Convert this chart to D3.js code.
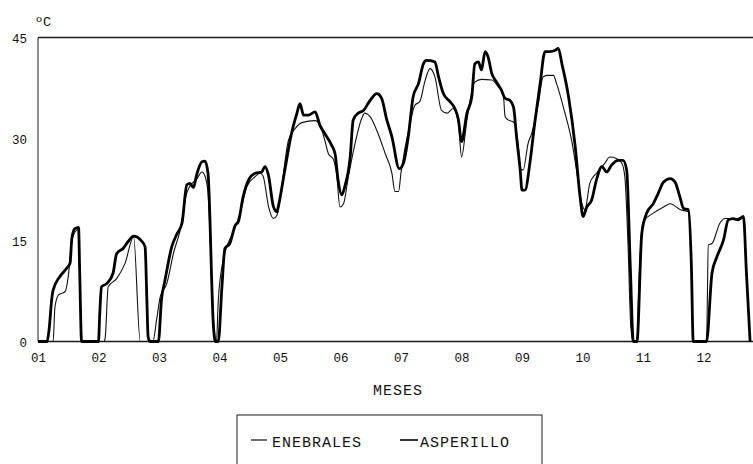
<!DOCTYPE html>
<html lang="es">
<head>
<meta charset="UTF-8">
<title>Temperatura mensual</title>
<script src="https://d3js.org/d3.v7.min.js"></script>
<style>
  body { margin: 0; background: #fff; }
  svg text { font-family: "Liberation Mono", "DejaVu Sans Mono", monospace; fill: #111; }
</style>
</head>
<body>
<svg id="chart" width="753" height="464"></svg>
<script>
// Month ticks and y ticks
var monthTicks = [1, 2, 3, 4, 5, 6, 7, 8, 9, 10, 11, 12];
var tempTicks = [0, 15, 30, 45];

// ENEBRALES (thin line): position in months, temperature in ºC
var enebralesMes = [1.00, 1.25, 1.28, 1.34, 1.45, 1.50, 1.56, 1.64, 1.67, 1.69, 1.72,
  2.09, 2.11, 2.16, 2.30, 2.44, 2.58, 2.69, 2.90, 2.96,
  3.02, 3.13, 3.24, 3.35, 3.46, 3.51, 3.62, 3.71, 3.76, 3.81, 3.87, 3.91, 3.95, 3.98,
  4.06, 4.14, 4.22, 4.34, 4.45, 4.59, 4.67, 4.72, 4.81, 4.89, 4.95,
  5.00, 5.14, 5.25, 5.36, 5.58, 5.66, 5.74, 5.80, 5.88, 5.94, 5.99,
  6.05, 6.13, 6.24, 6.35, 6.40, 6.49, 6.62, 6.74, 6.85, 6.90, 6.96,
  7.00, 7.15, 7.23, 7.31, 7.40, 7.48, 7.56, 7.67, 7.76, 7.86, 7.95,
  8.00, 8.09, 8.22, 8.33, 8.50, 8.61, 8.69, 8.72, 8.77, 8.86, 8.94, 8.97,
  9.02, 9.10, 9.16, 9.27, 9.35, 9.43, 9.52, 9.57, 9.71, 9.82, 9.90, 9.99,
  10.04, 10.12, 10.18, 10.23, 10.37, 10.45, 10.56, 10.65, 10.70, 10.75, 10.80, 10.84, 10.90, 10.93,
  11.00, 11.17, 11.34, 11.45, 11.62, 11.75, 11.80, 11.83,
  12.05, 12.08, 12.14, 12.27, 12.36, 12.55, 12.66, 12.71, 12.77];
var enebralesTemp = [0, 0, 5.1, 6.9, 7.4, 9.6, 15, 16.5, 16.7, 10, 0,
  0, 0.5, 8.1, 9.3, 11.6, 15.5, 0, 0, 3.2,
  6.6, 8.6, 13.1, 16.5, 22, 23, 24, 25.1, 24.5, 22, 10, 2, 0, 6.1,
  12, 14.5, 16, 19, 22.9, 24.4, 24.9, 24.5, 20, 18.2, 18.7,
  21, 29.8, 31.5, 32.4, 32.7, 32, 29.8, 27.8, 27.0, 24.4, 19.9,
  20.4, 24.4, 29.3, 33.0, 33.8, 33.3, 30.8, 27.8, 24.9, 22.2, 22.2,
  25, 32.3, 35.0, 35.5, 38.7, 40.4, 39.2, 34.2, 33.8, 34.5, 32.3,
  27.3, 32.8, 38.4, 38.8, 38.7, 37.7, 36.7, 33.3, 32.8, 32.5, 28.8, 25.4,
  25.4, 29.3, 30.8, 35.2, 39.2, 39.4, 39.4, 38.2, 33.8, 29.8, 25.4, 20.4,
  19.5, 23.4, 24.4, 24.9, 26.4, 27.3, 27.1, 26.4, 24.4, 15, 2, 0, 0, 8,
  17.7, 19, 19.9, 20.4, 19.5, 19.2, 11.1, 0,
  0, 14.3, 14.5, 17.5, 18.2, 18.2, 18.5, 10, 0];

// ASPERILLO (thick line)
var asperilloMes = [1.00, 1.15, 1.18, 1.23, 1.25, 1.36, 1.47, 1.53, 1.56, 1.61, 1.67, 1.69, 1.72,
  2.00, 2.02, 2.05, 2.14, 2.24, 2.30, 2.41, 2.49, 2.58, 2.71, 2.77, 2.80, 2.82, 2.85, 2.96, 2.99,
  3.04, 3.10, 3.21, 3.29, 3.38, 3.46, 3.51, 3.57, 3.62, 3.71, 3.76, 3.81, 3.90, 3.93, 3.98,
  4.04, 4.09, 4.17, 4.26, 4.31, 4.39, 4.48, 4.59, 4.70, 4.75, 4.81, 4.89, 4.95, 4.97,
  5.08, 5.19, 5.28, 5.33, 5.39, 5.47, 5.58, 5.66, 5.74, 5.85, 5.91, 5.96,
  6.02, 6.07, 6.16, 6.21, 6.29, 6.38, 6.49, 6.60, 6.68, 6.76, 6.85, 6.97,
  7.04, 7.12, 7.20, 7.29, 7.37, 7.42, 7.56, 7.62, 7.70, 7.81, 7.89, 7.95,
  8.00, 8.09, 8.17, 8.22, 8.28, 8.33, 8.39, 8.44, 8.50, 8.58, 8.66, 8.72, 8.80, 8.86, 8.91, 8.97,
  9.00, 9.05, 9.13, 9.21, 9.30, 9.38, 9.46, 9.55, 9.60, 9.66, 9.77, 9.88, 9.96,
  10.01, 10.07, 10.15, 10.23, 10.32, 10.40, 10.48, 10.59, 10.67, 10.73, 10.79, 10.84, 10.90, 10.98,
  11.06, 11.17, 11.25, 11.34, 11.45, 11.53, 11.61, 11.67, 11.75, 11.80, 11.83,
  12.05, 12.14, 12.22, 12.33, 12.41, 12.49, 12.57, 12.66, 12.71, 12.77];
var asperilloTemp = [0, 0, 1.5, 6.5, 7.6, 9.6, 10.8, 11.6, 15.3, 16.7, 16.9, 10, 0,
  0, 4, 8.1, 8.6, 10.1, 13.0, 13.8, 14.8, 15.6, 14.9, 14.0, 6, 0.7, 0, 0, 0,
  6.1, 9.1, 14.0, 15.8, 17.5, 23.2, 23.4, 22.8, 24.6, 26.6, 26.7, 24.9, 2.2, 0, 0,
  8.1, 13.8, 14.5, 17.2, 17.7, 21.4, 23.9, 24.9, 25.1, 25.9, 24.6, 20.0, 19.2, 19.9,
  25.4, 30.8, 33.8, 35.2, 33.5, 33.5, 34.0, 32.0, 30.8, 29.1, 27.8, 23.9,
  21.7, 22.9, 27.3, 32.8, 33.8, 34.2, 35.7, 36.7, 36.0, 33.0, 30.3, 25.6,
  26.4, 30.3, 36.2, 38.2, 41.1, 41.6, 41.4, 39.2, 36.7, 35.5, 34.5, 32.8,
  29.6, 33.8, 36.2, 41.1, 41.4, 40.2, 42.9, 42.1, 39.7, 38.4, 37.2, 36.0, 35.7, 34.7, 30.3, 25.4,
  22.4, 22.4, 26.4, 32.3, 38.2, 42.9, 42.9, 43.1, 43.4, 41.1, 36.2, 28.8, 21.4,
  18.5, 19.9, 20.9, 23.9, 25.9, 25.1, 26.1, 26.8, 26.8, 25.4, 11.1, 0, 0, 16,
  19, 20.4, 21.9, 23.6, 24.1, 23.6, 21.4, 19.7, 19.5, 11.1, 0,
  0, 10.1, 12.5, 15.0, 18.0, 18.2, 18.0, 18.5, 10.1, 0];

var svg = d3.select("#chart");

var x = d3.scaleLinear().domain([1, 13]).range([38, 764]);
var y = d3.scaleLinear().domain([0, 45]).range([341.5, 37.5]);

// frame lines (left, top, bottom)
var ink = "#1a1a1a";
svg.append("line").attr("x1", x(1)).attr("x2", x(1)).attr("y1", y(45)).attr("y2", y(0))
  .attr("stroke", ink).attr("stroke-width", 1);
svg.append("line").attr("x1", x(1)).attr("x2", 753).attr("y1", y(45)).attr("y2", y(45))
  .attr("stroke", ink).attr("stroke-width", 1.3);
svg.append("line").attr("x1", x(1)).attr("x2", 753).attr("y1", y(0)).attr("y2", y(0))
  .attr("stroke", ink).attr("stroke-width", 1.3);

// axes, labels only
var xAxis = svg.append("g")
  .attr("transform", "translate(0," + y(0) + ")")
  .call(d3.axisBottom(x).tickValues(monthTicks).tickSize(0).tickPadding(12)
    .tickFormat(function(d) { return d3.format("02")(d); }));
var yAxis = svg.append("g")
  .attr("transform", "translate(" + x(1) + ",0)")
  .call(d3.axisLeft(y).tickValues(tempTicks).tickSize(0).tickPadding(11));
[xAxis, yAxis].forEach(function(g) {
  g.select(".domain").remove();
  g.selectAll("text").style("font-family", "'Liberation Mono', monospace")
    .style("font-size", "12.5px").attr("fill", "#111");
});
yAxis.selectAll("text").attr("dy", "0.4em");

svg.append("text").attr("x", 35).attr("y", 26)
  .style("font-size", "13.5px").text("ºC");

svg.append("text").attr("x", 398).attr("y", 395).attr("text-anchor", "middle")
  .style("font-size", "15px").style("letter-spacing", "1px").text("MESES");

// lines
var line = d3.line().curve(d3.curveMonotoneX)
  .x(function(d) { return x(d[0]); })
  .y(function(d) { return y(d[1]); });

var enebrales = d3.zip(enebralesMes, enebralesTemp);
var asperillo = d3.zip(asperilloMes, asperilloTemp);

svg.append("path").datum(enebrales).attr("d", line)
  .attr("fill", "none").attr("stroke", "#111").attr("stroke-width", 1.1)
  .attr("stroke-linejoin", "round");
svg.append("path").datum(asperillo).attr("d", line)
  .attr("fill", "none").attr("stroke", "#000").attr("stroke-width", 2.8)
  .attr("stroke-linejoin", "round");

// legend box
var legend = svg.append("g");
legend.append("rect").attr("x", 237).attr("y", 415).attr("width", 305).attr("height", 60)
  .attr("fill", "none").attr("stroke", ink).attr("stroke-width", 1);
legend.append("line").attr("x1", 251).attr("x2", 267).attr("y1", 440).attr("y2", 440)
  .attr("stroke", "#111").attr("stroke-width", 1.2);
legend.append("text").attr("x", 272).attr("y", 447)
  .style("font-size", "15px").style("letter-spacing", "1px").text("ENEBRALES");
legend.append("line").attr("x1", 400).attr("x2", 418).attr("y1", 440).attr("y2", 440)
  .attr("stroke", "#000").attr("stroke-width", 1.6);
legend.append("text").attr("x", 420).attr("y", 447)
  .style("font-size", "15px").style("letter-spacing", "1px").text("ASPERILLO");
</script>
</body>
</html>
